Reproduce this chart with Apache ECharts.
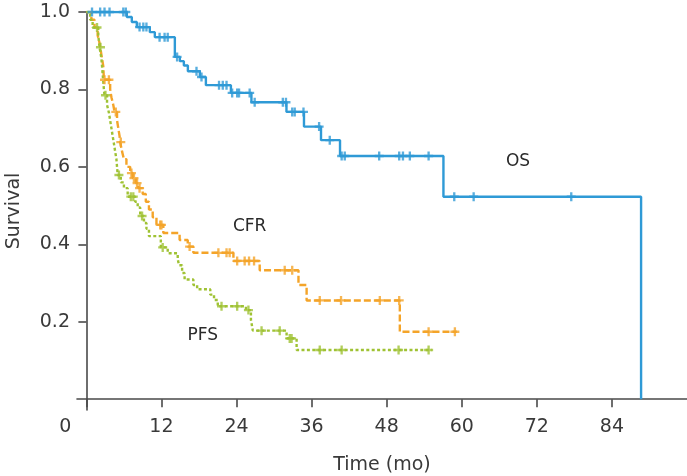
<!DOCTYPE html>
<html>
<head>
<meta charset="utf-8">
<script src="https://cdn.jsdelivr.net/npm/echarts@6/dist/echarts.min.js"></script>
<style>html,body{margin:0;padding:0;background:#fff}#c{width:687px;height:476px}</style>
</head>
<body>
<div id="c"></div>
<script>
// ---- data ----
const xTicks = [0, 12, 24, 36, 48, 60, 72, 84];
const yTicks = [0.2, 0.4, 0.6, 0.8, 1.0];

// Kaplan-Meier steps [time (mo), survival after event]
const osSteps = [[0,1],[6.46,0.987],[7.26,0.974],[8.06,0.961],[10.14,0.948],[10.94,0.935],[14.14,0.884],[14.94,0.873],[15.58,0.862],[16.22,0.847],[18.14,0.832],[19.1,0.811],[23.1,0.791],[26.38,0.767],[31.98,0.742],[34.78,0.704],[37.5,0.669],[40.54,0.628],[57.07,0.523],[88.66,0]];
const osCensor = [0.9,2.2,2.9,3.7,5.9,6.3,8.5,9.1,9.6,11.7,12.5,13.0,14.5,17.6,18.4,21.2,21.8,22.4,23.3,24.1,24.4,26.1,26.9,31.4,31.9,32.9,33.3,34.7,37.2,38.9,40.8,41.3,46.8,50.0,50.6,51.7,54.7,58.8,61.9,77.5];

const cfrSteps = [[0,1],[0.8,0.98],[1.3,0.96],[1.8,0.94],[2.1,0.92],[2.3,0.9],[2.5,0.88],[2.7,0.86],[2.8,0.825],[3.8,0.8],[4.0,0.78],[4.3,0.76],[4.5,0.742],[4.9,0.72],[5.1,0.7],[5.3,0.68],[5.4,0.664],[5.7,0.64],[6.0,0.62],[6.4,0.6],[7.0,0.584],[7.4,0.571],[7.9,0.558],[8.3,0.545],[9.0,0.53],[9.5,0.51],[10.0,0.49],[10.6,0.47],[11.2,0.45],[12.3,0.429],[14.9,0.411],[16.2,0.394],[17.1,0.378],[23.5,0.357],[27.7,0.333],[33.9,0.295],[35.2,0.255],[50.1,0.174],[59.2,0.174]];
const cfrCensor = [2.9,3.6,4.7,5.5,7.2,7.6,8.1,8.5,11.8,12.0,16.5,21.1,22.4,22.9,24.1,25.3,26.0,26.8,31.7,32.9,37.3,40.7,46.9,50.0,54.7,58.9];

const pfsSteps = [[0,1],[0.6,0.98],[1.0,0.96],[1.9,0.94],[2.0,0.925],[2.1,0.909],[2.4,0.88],[2.5,0.86],[2.6,0.84],[2.7,0.82],[2.8,0.8],[2.9,0.785],[3.3,0.76],[3.6,0.74],[3.8,0.72],[4.0,0.7],[4.2,0.68],[4.4,0.66],[4.6,0.64],[4.8,0.62],[4.9,0.6],[5.0,0.579],[5.5,0.56],[6.0,0.545],[6.6,0.523],[7.8,0.51],[8.2,0.495],[8.6,0.473],[9.2,0.455],[9.6,0.44],[10.0,0.421],[11.9,0.392],[13.0,0.377],[14.6,0.362],[14.8,0.346],[15.3,0.326],[15.7,0.309],[17.1,0.295],[17.7,0.284],[19.8,0.27],[20.4,0.256],[21.0,0.24],[25.5,0.23],[26.3,0.205],[26.6,0.177],[32.0,0.157],[33.6,0.127],[55.2,0.127]];
const pfsCensor = [1.7,2.25,3.05,5.2,7.1,7.5,8.9,12.2,21.6,24.1,25.9,28.0,30.9,32.5,32.8,37.3,40.8,49.9,54.7];

const seriesNames = ['OS', 'CFR', 'PFS'];
const labelPos = {OS: [69.0, 0.613], CFR: [26.1, 0.445], PFS: [18.6, 0.164]};

// ---- helpers ----
function survAt(steps, t) {
  let s = steps[0][1];
  for (const p of steps) { if (p[0] <= t) s = p[1]; else break; }
  return s;
}
const plus = 'path://M3.7,0H6.3V3.7H10V6.3H6.3V10H3.7V6.3H0V3.7H3.7Z';
const colors = {OS: '#2f9ad6', CFR: '#f4a429', PFS: '#9fc233'};
const dash = {OS: 'solid', CFR: [7, 3], PFS: [3, 2.4]};
const stepsBy = {OS: osSteps, CFR: cfrSteps, PFS: pfsSteps};
const censBy = {OS: osCensor, CFR: cfrCensor, PFS: pfsCensor};
const FONT = 'DejaVu Sans';
const txt = '#3a3a3a';
const axisCol = '#4a4a4a';

const series = [];
seriesNames.forEach(n => {
  series.push({
    name: n, type: 'line', step: 'end', data: stepsBy[n], showSymbol: false, symbol: 'none',
    lineStyle: {color: colors[n], width: 2.4, type: dash[n], cap: 'butt'}, z: 3, animation: false
  });
  series.push({
    name: n + '-c', type: 'scatter', symbol: plus, symbolSize: 9,
    data: censBy[n].map(t => [t, survAt(stepsBy[n], t)]),
    itemStyle: {color: colors[n]}, z: 4, animation: false
  });
});

const chart = echarts.init(document.getElementById('c'), null, {renderer: 'canvas'});
chart.setOption({
  animation: false,
  grid: {left: 77, right: 0, top: 12, bottom: 66, containLabel: false, outerBoundsMode: 'none'},
  xAxis: {
    type: 'value', min: -1.5, max: 96,
    name: 'Time (mo)', nameLocation: 'middle', nameGap: 46,
    nameTextStyle: {fontFamily: FONT, fontSize: 19, color: txt},
    axisLine: {onZero: true, lineStyle: {color: axisCol, width: 1.6}},
    axisTick: {show: true, length: 8, inside: false, customValues: xTicks, lineStyle: {color: axisCol, width: 1.6}},
    axisLabel: {
      customValues: xTicks, fontFamily: FONT, fontSize: 19, color: txt, margin: 8,
      formatter: v => v === 0 ? '{z|0}' : String(v),
      rich: {z: {fontFamily: FONT, fontSize: 19, color: txt, padding: [0, 42, 0, 0]}}
    },
    splitLine: {show: false}
  },
  yAxis: {
    type: 'value', min: -0.028, max: 1.0,
    name: 'Survival', nameLocation: 'middle', nameGap: 53, nameRotate: 90,
    nameTextStyle: {fontFamily: FONT, fontSize: 19, color: txt},
    axisLine: {onZero: true, lineStyle: {color: axisCol, width: 1.6}},
    axisTick: {show: true, length: 8, customValues: yTicks, lineStyle: {color: axisCol, width: 1.6}},
    axisLabel: {customValues: yTicks, fontFamily: FONT, fontSize: 19, color: txt, margin: 7,
      formatter: v => v.toFixed(1)},
    splitLine: {show: false}
  },
  series: series
});

const g = seriesNames.map(n => {
  const p = chart.convertToPixel({gridIndex: 0}, labelPos[n]);
  return {type: 'text', x: p[0], y: p[1], z: 10,
    style: {text: n, fontFamily: FONT, fontSize: 17, fill: '#2a2a2a', align: 'center', verticalAlign: 'middle'}};
});
chart.setOption({graphic: g});
</script>
</body>
</html>
